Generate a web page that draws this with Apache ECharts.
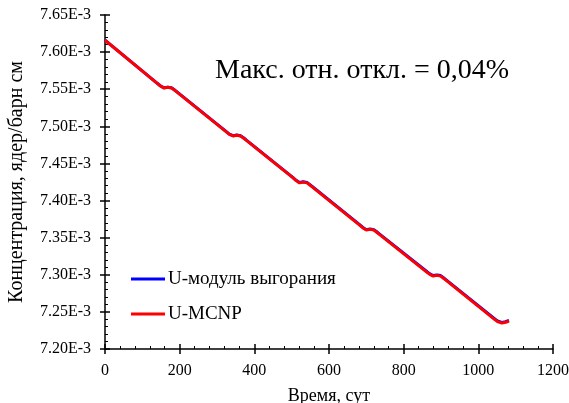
<!DOCTYPE html>
<html>
<head>
<meta charset="utf-8">
<script src="https://cdn.jsdelivr.net/npm/echarts@6/dist/echarts.min.js"></script>
<style>html,body{margin:0;padding:0;background:#fff}#c{width:569px;height:403px}</style>
</head>
<body>
<div id="c"></div>
<script>
// Time, days
const days = [0,140,148,153,158,163,168,173,178,184,192,
  325,333,338,343,348,353,358,363,369,377,
  503,511,516,521,526,531,536,541,547,555,
  682,690,695,700,705,710,715,720,726,734,
  861,869,874,879,884,889,894,899,905,913,
  1045,1053,1058,1063,1068,1073,1078,1082];
// Concentration (x1E-3 nuclei/barn cm), U-MCNP
const mcnp = [7.6160,7.5578,7.5545,7.5526,7.5516,7.5518,7.5526,7.5527,7.5516,7.5496,7.5465,
  7.4925,7.4892,7.4878,7.4870,7.4872,7.4880,7.4881,7.4870,7.4850,7.4818,
  7.4308,7.4272,7.4250,7.4238,7.4240,7.4248,7.4249,7.4238,7.4216,7.4184,
  7.3670,7.3635,7.3614,7.3602,7.3604,7.3612,7.3613,7.3602,7.3580,7.3548,
  7.3040,7.3008,7.2992,7.2982,7.2984,7.2992,7.2993,7.2982,7.2960,7.2928,
  7.2393,7.2365,7.2355,7.2351,7.2353,7.2360,7.2370,7.2377];
// Concentration (x1E-3), U burnup module
const module = [7.6161,7.5580,7.5547,7.5528,7.5518,7.5520,7.5528,7.5530,7.5519,7.5499,7.5468,
  7.4929,7.4896,7.4882,7.4874,7.4876,7.4884,7.4885,7.4874,7.4854,7.4822,
  7.4313,7.4277,7.4255,7.4243,7.4245,7.4253,7.4254,7.4243,7.4221,7.4189,
  7.3676,7.3641,7.3620,7.3608,7.3610,7.3618,7.3619,7.3608,7.3586,7.3554,
  7.3047,7.3015,7.2999,7.2989,7.2991,7.2999,7.3000,7.2989,7.2967,7.2935,
  7.2401,7.2373,7.2363,7.2359,7.2361,7.2368,7.2378,7.2385];
const seriesNames = ['U-модуль выгорания','U-MCNP'];
const yTicks = {min:7.20, max:7.65, step:0.05};
const xTicks = {min:0, max:1200, step:200};
const note = 'Макс. отн. откл. = 0,04%';

const font = 'Liberation Serif';
const chart = echarts.init(document.getElementById('c'), null, {renderer:'canvas'});
const pair = (vals) => days.map((d,i)=>[d, vals[i]]);
const axLine = {show:true, lineStyle:{color:'#000', width:1.5}};
chart.setOption({
  animation:false,
  grid:{left:105, right:16, top:15, bottom:54, containLabel:false, outerBoundsMode:'none'},
  legend:{
    orient:'vertical', left:131, top:269, padding:0, itemGap:15,
    icon:'rect', itemWidth:34, itemHeight:3,
    textStyle:{fontFamily:font, fontSize:19, lineHeight:20, color:'#000', padding:[0,0,0,-2]},
    data:seriesNames
  },
  graphic:[{type:'text', left:215, top:57, style:{text:note, font:'28px "Liberation Serif"', fill:'#000'}}],
  xAxis:[{
    type:'value', min:xTicks.min, max:xTicks.max, interval:xTicks.step, position:'bottom',
    name:'Время, сут', nameLocation:'middle', nameGap:38,
    nameTextStyle:{fontFamily:font, fontSize:18, color:'#000'},
    axisLine:axLine,
    axisTick:{show:true, inside:true, length:5, lineStyle:{color:'#000', width:1.5}},
    minorTick:{show:true, splitNumber:5, length:3, lineStyle:{color:'#000', width:1}},
    axisLabel:{fontFamily:font, fontSize:16, color:'#000', margin:14, formatter:(v)=>String(v)},
    splitLine:{show:false}
  },{
    type:'value', min:xTicks.min, max:xTicks.max, interval:xTicks.step, position:'bottom',
    axisLine:{show:false}, axisLabel:{show:false}, splitLine:{show:false},
    axisTick:{show:true, inside:false, length:5, lineStyle:{color:'#000', width:1.5}}
  }],
  yAxis:[{
    type:'value', min:yTicks.min, max:yTicks.max, interval:yTicks.step, position:'left',
    name:'Концентрация, ядер/барн см', nameLocation:'middle', nameGap:78,
    nameTextStyle:{fontFamily:font, fontSize:20, color:'#000'},
    axisLine:axLine,
    axisTick:{show:true, inside:true, length:5, lineStyle:{color:'#000', width:1.5}},
    minorTick:{show:true, splitNumber:5, length:3, lineStyle:{color:'#000', width:1}},
    axisLabel:{fontFamily:font, fontSize:16, color:'#000', margin:14,
      formatter:(v)=>v.toFixed(2)+'E-3'},
    splitLine:{show:false}
  },{
    type:'value', min:yTicks.min, max:yTicks.max, interval:yTicks.step, position:'left',
    axisLine:{show:false}, axisLabel:{show:false}, splitLine:{show:false},
    axisTick:{show:true, inside:false, length:5, lineStyle:{color:'#000', width:1.5}}
  }],
  series:[
    {name:seriesNames[0], type:'line', xAxisIndex:0, yAxisIndex:0, data:pair(module),
     showSymbol:false, symbol:'none', smooth:false,
     lineStyle:{color:'#0000FF', width:3}, itemStyle:{color:'#0000FF'}},
    {name:seriesNames[1], type:'line', xAxisIndex:0, yAxisIndex:0, data:pair(mcnp),
     showSymbol:false, symbol:'none', smooth:false,
     lineStyle:{color:'#FF0000', width:3}, itemStyle:{color:'#FF0000'}}
  ]
});
</script>
</body>
</html>
